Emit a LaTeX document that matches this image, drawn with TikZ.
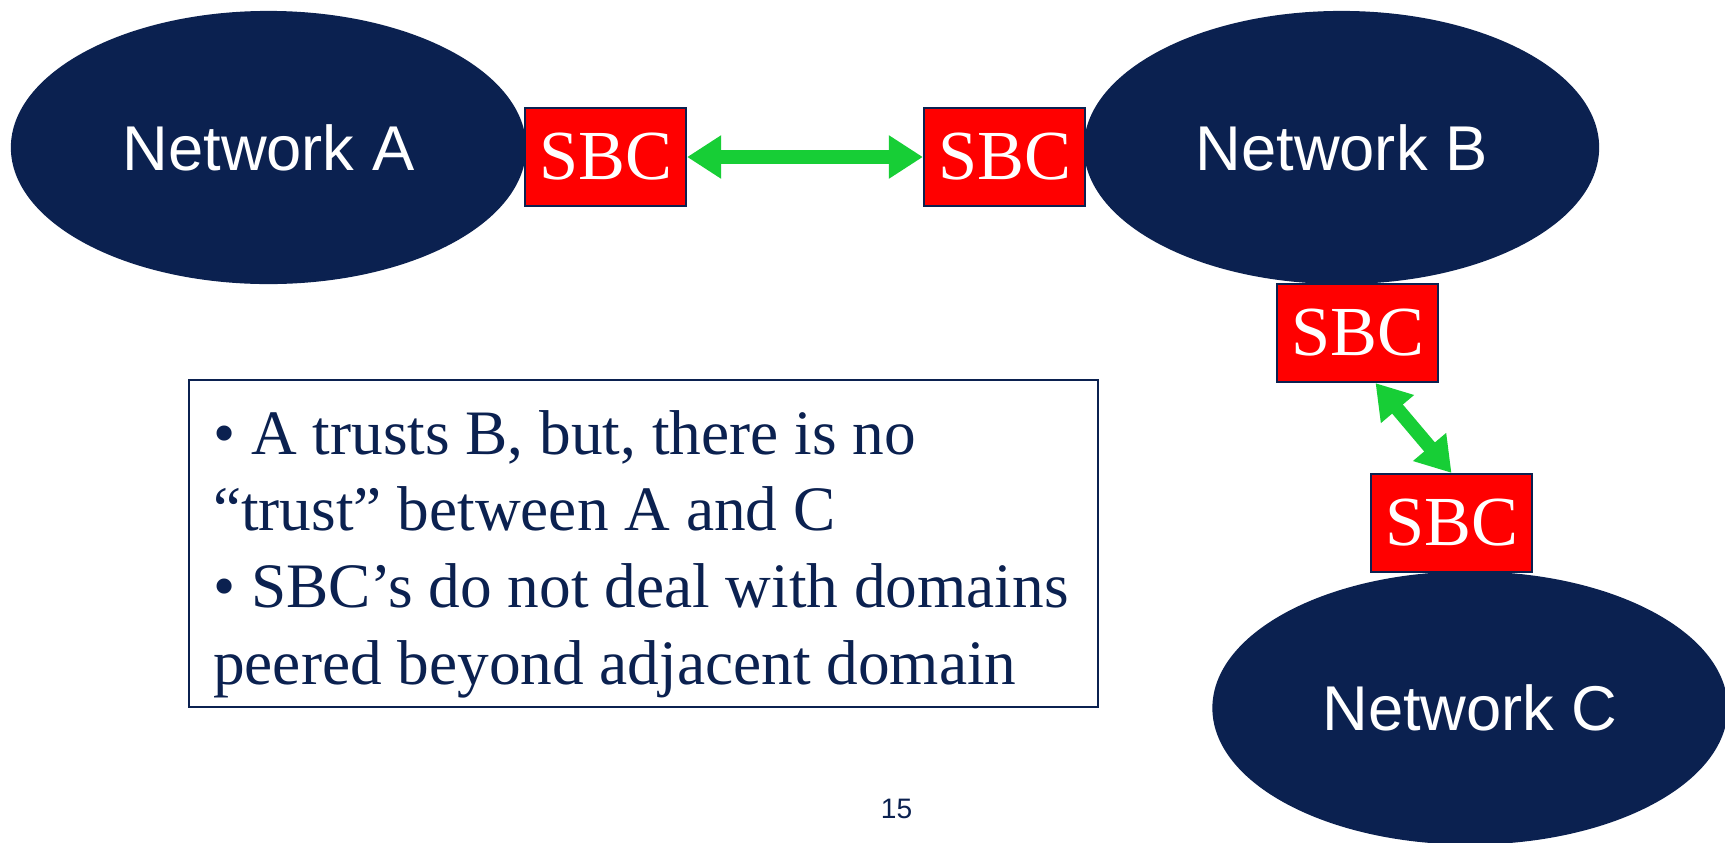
\documentclass[tikz,border=0pt]{standalone}
\usepackage{fontspec}
\setmainfont{Liberation Serif}
\newfontfamily\arialfont{Liberation Sans}
\usepackage{xcolor}
\usepackage{tikz}
\usetikzlibrary{shapes,arrows.meta,positioning,calc}
\definecolor{navy}{HTML}{0B2150}
\definecolor{trustgreen}{HTML}{17CE36}
\definecolor{sbcred}{HTML}{FF0000}
\begin{document}
\begin{tikzpicture}[x=0.01cm, y=-0.01cm,
    net/.style={ellipse, fill=navy, inner sep=0pt, minimum width=5.15cm, minimum height=2.73cm, text=white, font=\arialfont\fontsize{18}{20}\selectfont},
    sbc/.style={draw=navy, line width=0.6pt, fill=sbcred, minimum width=1.61cm, minimum height=0.98cm, inner sep=0pt, text=white, font=\fontsize{20}{22}\selectfont},
    arr/.style={{Triangle[length=3.4mm, width=4.1mm]}-{Triangle[length=3.4mm, width=4.1mm]}, draw=trustgreen, line width=1.4mm},
    notebox/.style={draw=navy, line width=0.6pt, minimum width=9.09cm, minimum height=3.27cm},
    notetext/.style={align=left, inner sep=0pt, text=navy, font=\fontsize{18}{21.8}\selectfont}
  ]
    \useasboundingbox (0,0) rectangle (1725,842);
    \fill[white] (0,0) rectangle (1725,842);

    \node[net] (neta) at (268.5, 147.5) {Network A};
    \node[net] (netb) at (1341.5, 147.5) {Network B};
    \node[net] (netc) at (1470, 708) {Network C};

    \node[sbc] (sbca)  at (605.5, 157) {SBC};
    \node[sbc] (sbcb)  at (1004.5, 157) {SBC};
    \node[sbc] (sbcb2) at (1357.5, 333) {SBC};
    \node[sbc] (sbcc)  at (1451.5, 523) {SBC};

    \draw[arr] (sbca.east) -- (sbcb.west);
    \draw[arr] ([xshift=0.18cm]sbcb2.south) -- (sbcc.north);

    \node[notebox] (notes) at (643.5, 543.5) {};
    \node[notetext] (bullets) at (641, 554) {• A trusts B, but, there is no\\“trust” between A and C\\• SBC’s do not deal with domains\\peered beyond adjacent domain};

    \node[text=navy, font=\arialfont\fontsize{8}{9}\selectfont] (pagenum) at (896.5, 808.5) {15};
  \end{tikzpicture}
\end{document}
